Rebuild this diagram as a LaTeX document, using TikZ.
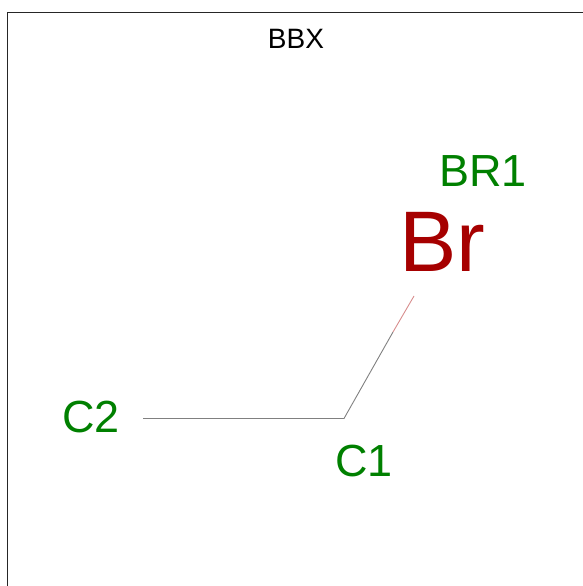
\documentclass[tikz,border=0pt]{standalone}
\usepackage{fontspec}
\setmainfont{Liberation Sans}
\usepackage{tikz}
\usetikzlibrary{positioning}
\definecolor{atomgreen}{RGB}{0,128,0}
\definecolor{brred}{RGB}{166,0,0}
\tikzstyle{atomlabel} = [text=atomgreen, font=\fontsize{45}{45}\selectfont, inner sep=0pt]
\tikzstyle{bond} = [draw=black!50, line width=0.9pt]

\begin{document}
\begin{tikzpicture}[x=1pt,y=-1pt]
\useasboundingbox (0,0) rectangle (583,586);

% Frame
\draw[black!85, line width=1pt] (7.5,586) -- (7.5,12.5) -- (583,12.5);

% Title
\node[font=\fontsize{28}{28}\selectfont, inner sep=0pt] (title) at (296,39) {BBX};

% Atoms
\node[text=brred, font=\fontsize{86}{86}\selectfont, inner sep=0pt] (br) at (442,242) {Br};
\node[atomlabel] (br1) at (483,171) {BR1};
\node[atomlabel] (c2) at (91,417) {C2};
\node[atomlabel] (c1) at (364,461) {C1};

% Bond points
\coordinate (c2end) at (143,418.5);
\coordinate (c1pt) at (344,418.5);
\coordinate (mid) at (393,332);
\coordinate (brend) at (414,296);

% Bonds
\draw[bond] (c2end) -- (c1pt) -- (mid);
\draw[draw=brred!45, line width=0.9pt] (mid) -- (brend);

\end{tikzpicture}
\end{document}
